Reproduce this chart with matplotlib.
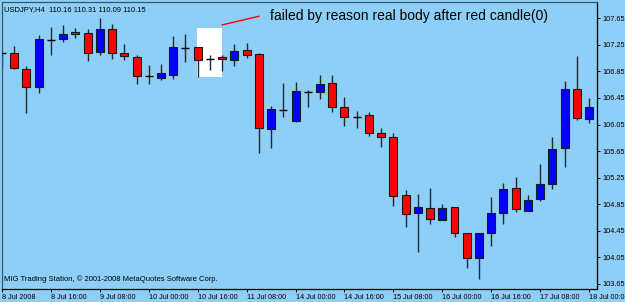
import numpy as np
import matplotlib.pyplot as plt
from matplotlib.patches import Rectangle

plt.rcParams['font.family'] = ['Liberation Sans', 'DejaVu Sans']

# H4 bars, 8 Jul 2008 00:00 .. 18 Jul 2008 00:00
opens = [107.13, 107.13, 106.89, 106.62, 107.32, 107.34, 107.44, 107.43, 107.14, 107.49,
         107.13, 107.07, 106.78, 106.75, 106.80, 107.20, 107.22, 107.04, 107.07, 107.02,
         107.17, 107.11, 105.98, 106.27, 106.10, 106.54, 106.54, 106.68, 106.31, 106.16,
         106.19, 105.92, 105.86, 104.99, 104.72, 104.79, 104.61, 104.81, 104.42, 104.04,
         104.42, 104.72, 105.09, 104.75, 104.93, 105.15, 105.70, 106.59, 106.13]
highs = [107.16, 107.23, 106.93, 107.40, 107.52, 107.55, 107.50, 107.49, 107.65, 107.56,
         107.26, 107.10, 106.95, 106.96, 107.38, 107.41, 107.22, 107.10, 107.10, 107.26,
         107.28, 107.13, 106.33, 106.68, 106.69, 106.57, 106.80, 106.80, 106.46, 106.25,
         106.24, 106.00, 105.92, 105.06, 105.00, 105.09, 104.85, 104.81, 104.42, 104.42,
         104.96, 105.17, 105.26, 104.99, 105.46, 105.86, 106.71, 107.08, 106.45]
lows = [106.92, 106.89, 106.22, 106.53, 107.10, 107.29, 107.35, 107.01, 107.10, 107.04,
        107.02, 106.66, 106.66, 106.72, 106.74, 106.99, 106.77, 106.87, 106.86, 106.93,
        107.05, 105.62, 105.70, 106.16, 106.09, 106.31, 106.43, 106.24, 106.03, 106.00,
        105.88, 105.71, 104.82, 104.51, 104.13, 104.55, 104.61, 104.36, 103.89, 103.72,
        104.22, 104.55, 104.73, 104.75, 104.90, 105.08, 105.41, 106.12, 106.07]
closes = [107.13, 106.90, 106.62, 107.34, 107.32, 107.41, 107.41, 107.13, 107.49, 107.13,
          107.08, 106.78, 106.78, 106.83, 107.22, 107.20, 107.02, 107.04, 107.04, 107.16,
          107.10, 106.00, 106.28, 106.27, 106.56, 106.54, 106.66, 106.31, 106.16, 106.16,
          105.92, 105.86, 104.97, 104.70, 104.81, 104.63, 104.79, 104.42, 104.04, 104.42,
          104.72, 105.08, 104.78, 104.91, 105.15, 105.68, 106.59, 106.15, 106.31]

xlabels = ['8 Jul 2008', '8 Jul 16:00', '9 Jul 08:00', '10 Jul 00:00', '10 Jul 16:00',
           '11 Jul 08:00', '14 Jul 00:00', '14 Jul 16:00', '15 Jul 08:00', '16 Jul 00:00',
           '16 Jul 16:00', '17 Jul 08:00', '18 Jul 00:00']
yticks = [107.65, 107.25, 106.85, 106.45, 106.05, 105.65, 105.25, 104.85, 104.45, 104.05, 103.65]

# highlighted setup (bars 16..18) and note
box_bars = (15.95, 18.0)
box_prices = (106.77, 107.50)
note_line_x = [18.0, 21.0]
note_line_y = [107.55, 107.68]
note = "failed by reason real body after red candle(0)"

bg = '#8dcff7'
fig = plt.figure(figsize=(6.25, 3.02), dpi=100, facecolor=bg)
ax = fig.add_axes([2/625, 1-289/302, 595/625, 287/302], facecolor=bg)

o = np.array(opens); c = np.array(closes)
x = np.arange(len(o))
w = 0.65

ax.add_patch(Rectangle((box_bars[0], box_prices[0]), box_bars[1]-box_bars[0],
                       box_prices[1]-box_prices[0], facecolor='white', edgecolor='none', zorder=1))

ax.vlines(x, lows, highs, color='#1e2a33', lw=1.0, zorder=2)
up = c > o
down = c < o
flat = c == o
ax.bar(x[up], (c-o)[up], bottom=o[up], width=w, color='#0000ff', edgecolor='#1a1a1a', lw=0.8, zorder=3)
ax.bar(x[down], (o-c)[down], bottom=c[down], width=w, color='#ff0000', edgecolor='#1a1a1a', lw=0.8, zorder=3)
ax.hlines(o[flat], x[flat]-w/2, x[flat]+w/2, color='black', lw=1.0, zorder=3)

ax.plot(note_line_x, note_line_y, color='#ff0000', lw=1.0, zorder=4)
ax.text(21.9, 107.68, note, fontsize=10, va='center', ha='left', color='black', zorder=5)

ax.text(0.004, 0.985, 'USDJPY,H4  110.16 110.31 110.09 110.15', transform=ax.transAxes,
        fontsize=5.5, va='top', ha='left')
ax.text(0.004, 0.022, 'MIG Trading Station, \u00a9 2001-2008 MetaQuotes Software Corp.',
        transform=ax.transAxes, fontsize=5.5, va='bottom', ha='left')

ax.set_xlim(0, 48.65)
ax.set_ylim(103.573, 107.895)

ax.set_xticks(np.arange(0, 49, 4))
ax.set_xticklabels(xlabels, fontsize=5.2)
for lab in ax.get_xticklabels():
    lab.set_horizontalalignment('left')
ax.tick_params(axis='x', direction='out', length=2.5, width=0.7, pad=1)

ax.yaxis.tick_right()
ax.set_yticks(yticks)
ax.set_yticklabels(['%.2f' % v for v in yticks], fontsize=5.3)
ax.tick_params(axis='y', direction='out', length=2.5, width=0.7, pad=1.5)

for s in ['left', 'top']:
    ax.spines[s].set_color('#3d5566')
for s in ['right', 'bottom']:
    ax.spines[s].set_color('black')
for s in ax.spines.values():
    s.set_linewidth(0.9)

fig.savefig('out.png', dpi=100, facecolor=bg)
